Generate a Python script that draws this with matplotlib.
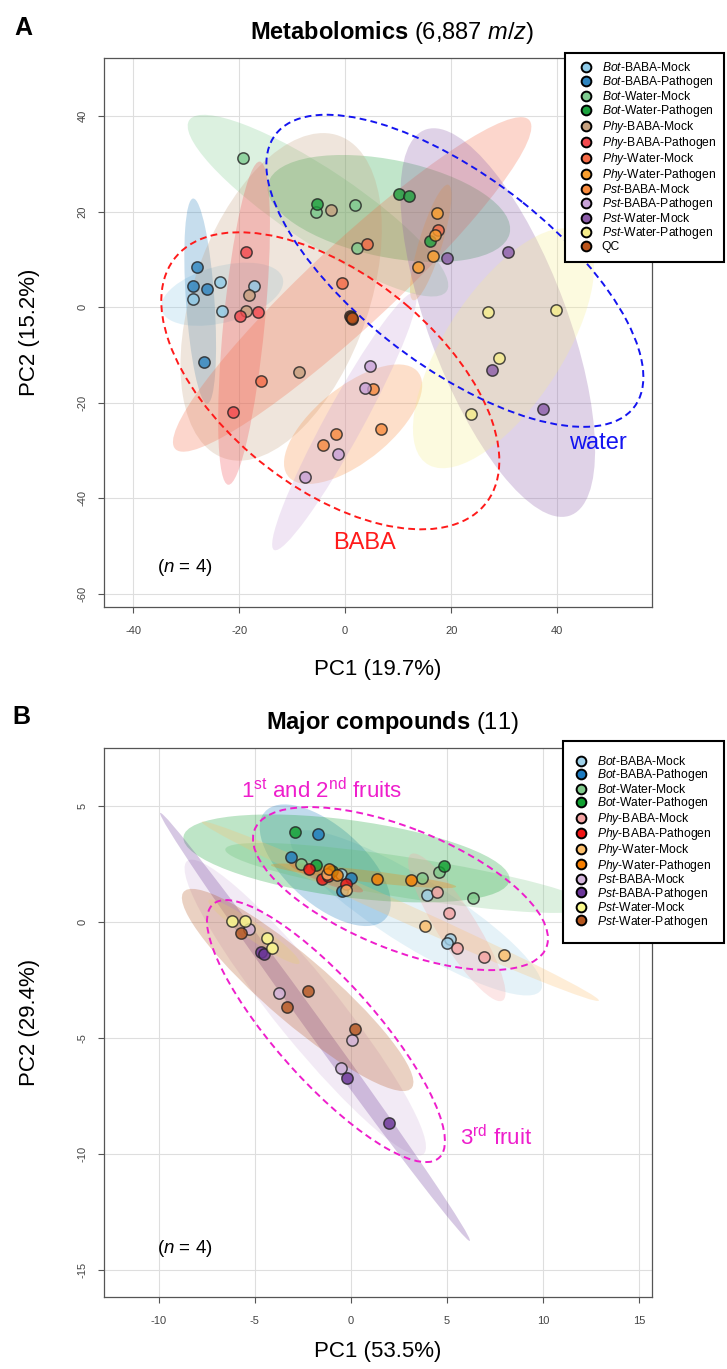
import numpy as np
import matplotlib
matplotlib.use("Agg")
import matplotlib.pyplot as plt
from matplotlib.patches import Ellipse
from matplotlib.lines import Line2D

plt.rcParams['font.family'] = ['Liberation Sans', 'DejaVu Sans']
plt.rcParams['mathtext.fontset'] = 'custom'
plt.rcParams['mathtext.rm'] = 'Liberation Sans'
plt.rcParams['mathtext.it'] = 'Liberation Sans:italic'
plt.rcParams['mathtext.bf'] = 'Liberation Sans:bold'
plt.rcParams['axes.unicode_minus'] = False

# groups (n = 4 each)
groups_a = ['Bot-BABA-Mock', 'Bot-BABA-Pathogen', 'Bot-Water-Mock', 'Bot-Water-Pathogen',
            'Phy-BABA-Mock', 'Phy-BABA-Pathogen', 'Phy-Water-Mock', 'Phy-Water-Pathogen',
            'Pst-BABA-Mock', 'Pst-BABA-Pathogen', 'Pst-Water-Mock', 'Pst-Water-Pathogen', 'QC']
groups_b = groups_a[:12]

colors_a = ['#8fcbe8', '#2d84bf', '#7fcc90', '#1ca23e', '#c6a17f', '#f3494e', '#f46a46',
            '#fa9f2e', '#f88b3d', '#c8a2d8', '#8a5ba8', '#f6ee8b', '#bb541b']
colors_b = ['#9fd0e8', '#1b7ac0', '#80c98b', '#10a030', '#f4a3a3', '#f01414', '#fcbf6c',
            '#f77f00', '#d2b4db', '#6a3598', '#fbfb8c', '#b5561e']

# panel A: metabolomics scores
a_pc1 = [
    [-23.6, -28.7, -17.2, -23.3],
    [-28.0, -28.7, -26.0, -26.7],
    [-19.2, -5.5, 1.9, 2.3],
    [-5.3, 10.2, 12.1, 16.0],
    [-2.7, -18.2, -18.7, -8.7],
    [-18.7, -19.9, -16.5, -21.2],
    [-0.5, 4.1, 17.6, -15.9],
    [17.3, 17.0, 16.5, 13.8],
    [-1.8, -4.2, 5.2, 6.8],
    [4.6, 3.7, -1.4, -7.5],
    [19.3, 30.7, 27.8, 37.4],
    [26.9, 39.8, 29.1, 23.7],
    [0.9, 1.3, 1.1, 1.2],
]
a_pc2 = [
    [5.2, 1.8, 4.5, -0.7],
    [8.4, 4.5, 3.7, -11.5],
    [31.2, 20.0, 21.4, 12.3],
    [21.6, 23.7, 23.3, 13.9],
    [20.4, 2.6, -0.9, -13.5],
    [11.5, -1.9, -1.1, -21.9],
    [5.1, 13.2, 16.2, -15.5],
    [19.7, 15.1, 10.8, 8.5],
    [-26.5, -28.8, -17.1, -25.5],
    [-12.4, -16.9, -30.8, -35.5],
    [10.2, 11.5, -13.2, -21.4],
    [-1.0, -0.5, -10.6, -22.3],
    [-1.9, -2.4, -2.1, -2.2],
]

# panel B: major compounds scores
b_pc1 = [
    [-0.54, 3.94, 5.16, 5.02],
    [-1.70, -3.14, -0.02, -0.49],
    [3.68, 6.37, 4.58, -2.60],
    [-2.92, -1.84, 4.84, -1.00],
    [4.50, 5.12, 5.50, 6.94],
    [-2.17, -1.53, -0.28, -1.20],
    [3.85, 7.97, -1.27, -0.26],
    [-1.13, -0.71, 1.34, 3.13],
    [-5.31, -3.73, 0.07, -0.54],
    [-4.70, -4.53, -0.23, 1.98],
    [-6.18, -5.52, -4.39, -4.10],
    [-5.73, -2.26, -3.32, 0.21],
]
b_pc2 = [
    [2.07, 1.16, -0.75, -0.89],
    [3.78, 2.79, 1.88, 1.34],
    [1.91, 1.05, 2.14, 2.50],
    [3.89, 2.44, 2.43, 2.20],
    [1.31, 0.37, -1.10, -1.49],
    [2.27, 1.84, 1.63, 2.00],
    [-0.16, -1.44, 2.09, 1.38],
    [2.28, 2.03, 1.84, 1.81],
    [-0.32, -3.07, -5.09, -6.27],
    [-1.28, -1.38, -6.74, -8.68],
    [0.06, 0.04, -0.68, -1.10],
    [-0.46, -2.97, -3.65, -4.63],
]

CHI2_95 = 5.991


def add_ellipse(ax, center, cov, scale=1.0, **kw):
    vals, vecs = np.linalg.eigh(np.asarray(cov, dtype=float))
    ang = np.degrees(np.arctan2(vecs[1, 1], vecs[0, 1]))
    w = 2 * np.sqrt(scale * vals[1])
    h = 2 * np.sqrt(scale * vals[0])
    ax.add_patch(Ellipse(center, w, h, angle=ang, **kw))


def leg_label(name):
    if '-' not in name:
        return name
    host, rest = name.split('-', 1)
    return r'$\mathit{' + host + '}$-' + rest


def draw_scores(ax, xs, ys, cols):
    for x, y, c in zip(xs, ys, cols):
        add_ellipse(ax, (np.mean(x), np.mean(y)), np.cov(x, y), CHI2_95,
                    facecolor=c, edgecolor='none', alpha=0.27, zorder=1)
    for x, y, c in zip(xs, ys, cols):
        ax.scatter(x, y, s=66, facecolor=c, edgecolor='#222222', linewidth=1.1,
                   alpha=0.8, zorder=4)


def style(ax, xlim, ylim, xt, yt):
    ax.set_xlim(xlim)
    ax.set_ylim(ylim)
    ax.set_xticks(xt)
    ax.set_yticks(yt)
    ax.grid(True, color='#dedede', lw=0.8)
    ax.set_axisbelow(True)
    for s in ax.spines.values():
        s.set_color('#555555')
        s.set_linewidth(0.9)
    ax.tick_params(length=4, width=0.8, color='#555555', labelsize=8,
                   labelcolor='#444444')
    ax.tick_params(axis='x', pad=10)
    ax.tick_params(axis='y', pad=8)
    for lab in ax.get_yticklabels():
        lab.set_rotation(90)
        lab.set_va('center')


def add_legend(ax, names, cols, box, borderpad, hl, htp, lsp):
    handles = [Line2D([], [], ls='none', marker='o', ms=7, mfc=c, mec='black', mew=1.4)
               for c in cols]
    leg = ax.legend(handles, [leg_label(n) for n in names], loc='upper left',
                    bbox_to_anchor=box, bbox_transform=fig.transFigure, mode='expand',
                    fontsize=8.7, frameon=True, fancybox=False, edgecolor='black',
                    framealpha=1, borderpad=borderpad, handlelength=hl,
                    handletextpad=htp, labelspacing=lsp, borderaxespad=0)
    leg.get_frame().set_linewidth(1.5)
    leg.set_zorder(10)


W, H = 727, 1369
fig = plt.figure(figsize=(W / 100, H / 100), dpi=100)

ax_a = fig.add_axes([104 / W, 1 - 607 / H, 548 / W, 549 / H])
ax_b = fig.add_axes([104 / W, 1 - 1297 / H, 548 / W, 549 / H])

# ---- A
draw_scores(ax_a, a_pc1, a_pc2, colors_a)
style(ax_a, (-45.5, 57.9), (-62.7, 52.1), [-40, -20, 0, 20, 40], [-60, -40, -20, 0, 20, 40])
add_ellipse(ax_a, (-2.8, -15.4), [[1017, -533], [-533, 965]], fill=False,
            edgecolor='#ff1a1a', lw=1.4, ls=(0, (3.5, 2.2)), zorder=3)
add_ellipse(ax_a, (20.7, 7.6), [[1265, -790], [-790, 1065]], fill=False,
            edgecolor='#1414f0', lw=1.4, ls=(0, (3.5, 2.2)), zorder=3)
ax_a.text(3.6, -49.3, 'BABA', color='#ff1a1a', fontsize=17, ha='center', va='center')
ax_a.text(47.7, -28.4, 'water', color='#1414f0', fontsize=17, ha='center', va='center')
ax_a.text(-30.2, -54.5, r'($\mathit{n}$ = $\mathit{4}$)', fontsize=13.5,
          ha='center', va='center')
add_legend(ax_a, groups_a, colors_a, (565 / W, 1 - 265 / H, 159 / W, 212 / H),
           0.7, 2.1, 0.25, 0.0)

# ---- B
draw_scores(ax_b, b_pc1, b_pc2, colors_b)
style(ax_b, (-12.86, 15.68), (-16.16, 7.5), [-10, -5, 0, 5, 10, 15], [-15, -10, -5, 0, 5])
mag = '#ee1ecc'
add_ellipse(ax_b, (2.58, 1.44), [[59.0, -16.5], [-16.5, 12.34]], fill=False,
            edgecolor=mag, lw=1.4, ls=(0, (3.5, 2.2)), zorder=3)
add_ellipse(ax_b, (-1.30, -4.70), [[38.4, -29.4], [-29.4, 31.9]], fill=False,
            edgecolor=mag, lw=1.4, ls=(0, (3.5, 2.2)), zorder=3)
ax_b.text(-1.51, 5.65, r'1$^{\mathrm{st}}$ and 2$^{\mathrm{nd}}$ fruits', color=mag,
          fontsize=16, ha='center', va='center')
ax_b.text(5.68, -9.27, r'3$^{\mathrm{rd}}$ fruit', color=mag, fontsize=16,
          ha='left', va='center')
ax_b.text(-8.65, -14.05, r'($\mathit{n}$ = $\mathit{4}$)', fontsize=13.5,
          ha='center', va='center')
add_legend(ax_b, groups_b, colors_b, (563 / W, 1 - 943 / H, 161 / W, 202 / H),
           1.15, 0.6, 1.1, -0.04)

# titles, panel letters, axis labels
fig.text(392 / W, 1 - 32 / H, r'$\mathbf{Metabolomics}$ (6,887 $\mathit{m/z}$)',
         fontsize=17, ha='center', va='center')
fig.text(392 / W, 1 - 723 / H, r'$\mathbf{Major\ compounds}$ (11)',
         fontsize=17, ha='center', va='center')
fig.text(23 / W, 1 - 28 / H, 'A', fontsize=18, fontweight='bold', ha='center', va='center')
fig.text(21 / W, 1 - 717 / H, 'B', fontsize=18, fontweight='bold', ha='center', va='center')

fig.text(378 / W, 1 - 669 / H, 'PC1 (19.7%)', fontsize=16, ha='center', va='center')
fig.text(30 / W, 1 - 332 / H, 'PC2 (15.2%)', fontsize=16, rotation=90,
         ha='center', va='center')
fig.text(378 / W, 1 - 1351 / H, 'PC1 (53.5%)', fontsize=16, ha='center', va='center')
fig.text(30 / W, 1 - 1022 / H, 'PC2 (29.4%)', fontsize=16, rotation=90,
         ha='center', va='center')

fig.savefig('out.png', dpi=100)
